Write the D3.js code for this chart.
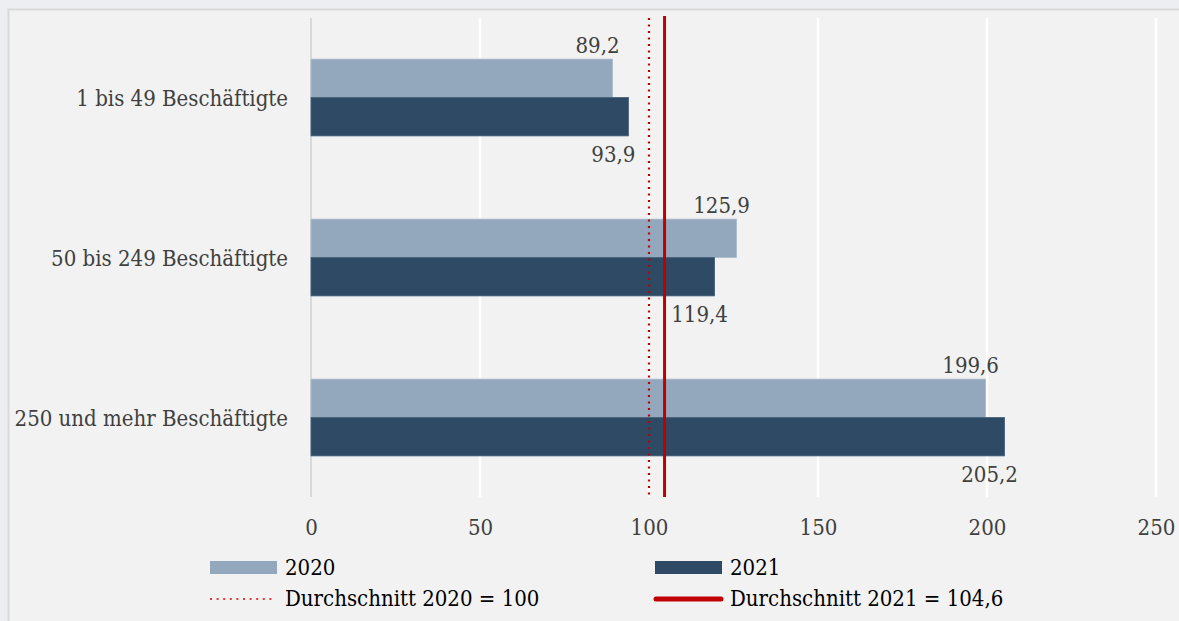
<!DOCTYPE html>
<html>
<head>
<meta charset="utf-8">
<script src="https://cdn.jsdelivr.net/npm/d3@7"></script>
<style>
  body { margin: 0; background: #edeef2; }
  svg { display: block; }
  text { font-family: "DejaVu Serif Condensed", "DejaVu Serif", serif; font-stretch: condensed; }
</style>
</head>
<body>
<div id="chart"></div>
<script>
// Chart data
var categories = ["1 bis 49 Beschäftigte", "50 bis 249 Beschäftigte", "250 und mehr Beschäftigte"];
var values2020 = [89.2, 125.9, 199.6];
var values2021 = [93.9, 119.4, 205.2];
var avg2020 = 100;
var avg2021 = 104.6;
var xTicks = [0, 50, 100, 150, 200, 250];
var seriesNames = ["2020", "2021"];
var legendLines = ["Durchschnitt 2020 = 100", "Durchschnitt 2021 = 104,6"];

var svgWidth = 1179;
var svgHeight = 621;
var fontSize = 22;
var colors = { "2020": "#93a8bc", "2021": "#2e4a65" };
var red = "#c00000";
var fmt = function(v) { return d3.format(".1f")(v).replace(".", ","); };

var svg = d3.select("#chart")
  .append("svg")
  .attr("width", svgWidth)
  .attr("height", svgHeight);

// chart area with border
svg.append("rect")
  .attr("x", 8.5).attr("y", 9.5)
  .attr("width", svgWidth).attr("height", svgHeight)
  .attr("fill", "#f2f2f2")
  .attr("stroke", "#d9d9d9")
  .attr("stroke-width", 2);

// Scales
var x = d3.scaleLinear().domain([0, 250]).range([311, 1156]);
var y = d3.scaleBand().domain(categories).range([17.5, 497.5])
  .paddingInner(0.52).paddingOuter(0.26);
var ySub = d3.scaleBand().domain(seriesNames).range([0, y.bandwidth()]);

// Gridlines
svg.append("g").selectAll("line")
  .data(xTicks.slice(1))
  .enter().append("line")
  .attr("x1", d => x(d)).attr("x2", d => x(d))
  .attr("y1", 18).attr("y2", 497)
  .attr("stroke", "#ffffff")
  .attr("stroke-width", 2.5);

// x axis labels
var xAxis = svg.append("g")
  .attr("transform", "translate(0,497)")
  .call(d3.axisBottom(x).tickValues(xTicks).tickSize(0).tickPadding(22).tickFormat(d3.format("d")));
xAxis.select(".domain").remove();
xAxis.selectAll("text")
  .attr("font-size", fontSize)
  .attr("fill", "#404040")
  .attr("font-family", null);

// y axis line at zero
svg.append("line")
  .attr("x1", x(0)).attr("x2", x(0))
  .attr("y1", 18).attr("y2", 497)
  .attr("stroke", "#d9d9d9")
  .attr("stroke-width", 2);

// Category labels
svg.append("g").selectAll("text")
  .data(categories)
  .enter().append("text")
  .attr("x", 288)
  .attr("y", d => y(d) + y.bandwidth() / 2)
  .attr("dy", "0.38em")
  .attr("text-anchor", "end")
  .attr("font-size", fontSize)
  .attr("fill", "#404040")
  .text(d => d);

// Bars
var rows = categories.map(function(c, i) {
  return [{ cat: c, s: "2020", v: values2020[i] }, { cat: c, s: "2021", v: values2021[i] }];
});
var flat = [].concat.apply([], rows);

svg.append("g").selectAll("rect")
  .data(flat)
  .enter().append("rect")
  .attr("x", x(0))
  .attr("y", d => y(d.cat) + ySub(d.s))
  .attr("width", d => x(d.v) - x(0))
  .attr("height", ySub.bandwidth())
  .attr("fill", d => colors[d.s])
  .attr("stroke", d => d.s === "2020" ? "#a9bccc" : "#44607a")
  .attr("stroke-width", 0.8);

// Value labels
svg.append("g").selectAll("text")
  .data(flat)
  .enter().append("text")
  .attr("x", d => x(d.v) - 15)
  .attr("y", d => d.s === "2020" ? y(d.cat) - 6 : y(d.cat) + y.bandwidth() + 26)
  .attr("text-anchor", "middle")
  .attr("font-size", fontSize)
  .attr("fill", "#404040")
  .text(d => fmt(d.v));

// Average lines
svg.append("line")
  .attr("x1", x(avg2020)).attr("x2", x(avg2020))
  .attr("y1", 18).attr("y2", 497)
  .attr("stroke", red)
  .attr("stroke-width", 2.2)
  .attr("stroke-dasharray", "2,4.5");
svg.append("line")
  .attr("x1", x(avg2021)).attr("x2", x(avg2021))
  .attr("y1", 16).attr("y2", 497)
  .attr("stroke", red)
  .attr("stroke-width", 3);

// Legend
var legend = svg.append("g");
var legendX = [210, 655];
seriesNames.forEach(function(s, i) {
  legend.append("rect")
    .attr("x", legendX[i]).attr("y", 561)
    .attr("width", 67).attr("height", 13)
    .attr("fill", colors[s]);
  legend.append("text")
    .attr("x", legendX[i] + 75).attr("y", 575)
    .attr("font-size", fontSize)
    .attr("fill", "#000")
    .text(s);
});
legend.append("line")
  .attr("x1", 210).attr("x2", 276)
  .attr("y1", 599).attr("y2", 599)
  .attr("stroke", "#e03a3a")
  .attr("stroke-width", 2)
  .attr("stroke-dasharray", "2,4.6");
legend.append("line")
  .attr("x1", 656).attr("x2", 721)
  .attr("y1", 599).attr("y2", 599)
  .attr("stroke", red)
  .attr("stroke-width", 5)
  .attr("stroke-linecap", "round");
legendLines.forEach(function(t, i) {
  legend.append("text")
    .attr("x", legendX[i] + 75).attr("y", 606)
    .attr("font-size", fontSize)
    .attr("fill", "#000")
    .text(t);
});
</script>
</body>
</html>
